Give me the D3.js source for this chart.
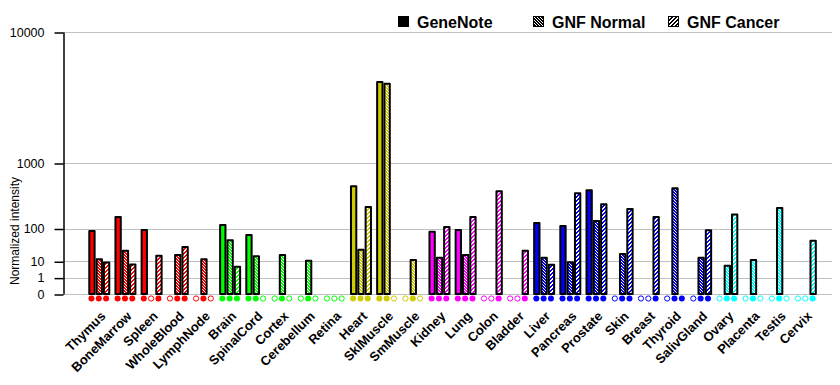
<!DOCTYPE html>
<html>
<head>
<meta charset="utf-8">
<script src="https://cdn.jsdelivr.net/npm/d3@7"></script>
<style>
  body { margin: 0; background: #fff; }
  svg { display: block; font-family: "Liberation Sans", Arial, sans-serif; }
</style>
</head>
<body>
<div id="chart"></div>
<script>
// tissues along the x axis
const tissues = ["Thymus", "BoneMarrow", "Spleen", "WholeBlood", "LymphNode", "Brain", "SpinalCord",
  "Cortex", "Cerebellum", "Retina", "Heart", "SklMuscle", "SmMuscle", "Kidney", "Lung", "Colon",
  "Bladder", "Liver", "Pancreas", "Prostate", "Skin", "Breast", "Thyroid", "SalivGland", "Ovary",
  "Placenta", "Testis", "Cervix"];

// colour of each tissue group
const tissueColors = ["#ff0000", "#ff0000", "#ff0000", "#ff0000", "#ff0000",
  "#00ff00", "#00ff00", "#00ff00", "#00ff00", "#00ff00",
  "#cccc00", "#cccc00", "#cccc00",
  "#ff00ff", "#ff00ff", "#ff00ff", "#ff00ff",
  "#0000ff", "#0000ff", "#0000ff", "#0000ff", "#0000ff", "#0000ff", "#0000ff",
  "#00ffff", "#00ffff", "#00ffff", "#00ffff"];

// normalized intensities
const geneNote  = [88, 171, 93, 0, 0, 119, 71, 0, 0, 0, 522, 4950, 0, 84, 93, 0, 0, 131, 113, 462, 0, 0, 0, 0, 0, 0, 0, 0];
const gnfNormal = [12.3, 25, 0, 18, 12.3, 52, 16, 18, 10.4, 0, 27, 4820, 11.2, 14, 18, 0, 0, 14, 9.1, 143, 19.6, 0, 491, 13.9, 6.1, 11.2, 246, 0];
const gnfCancer = [8.8, 7.1, 16.6, 33, 0, 5.4, 0, 0, 0, 0, 256, 0, 0, 108, 171, 447, 25, 6.8, 419, 286, 237, 171, 0, 91, 191, 0, 0, 50];

// filled (1) / open (0) markers under each bar
const markGeneNote  = [1, 1, 1, 0, 0, 1, 1, 0, 0, 0, 1, 1, 0, 1, 1, 0, 0, 1, 1, 1, 0, 0, 0, 0, 0, 0, 0, 0];
const markGnfNormal = [1, 1, 0, 1, 1, 1, 1, 1, 1, 0, 1, 1, 1, 1, 1, 0, 0, 1, 1, 1, 1, 0, 1, 1, 1, 1, 1, 0];
const markGnfCancer = [1, 1, 1, 1, 0, 1, 0, 0, 0, 0, 1, 0, 0, 1, 1, 1, 1, 1, 1, 1, 1, 1, 1, 1, 1, 0, 0, 1];

const yTicks = [0, 1, 10, 100, 1000, 10000];
const seriesNames = ["GeneNote", "GNF Normal", "GNF Cancer"];

const width = 840, height = 385;
const axisX = 63, gridRight = 832;
const baseY = 294, topY = 32;

const svg = d3.select("#chart").append("svg")
    .attr("width", width)
    .attr("height", height);

const defs = svg.append("defs");

// pixel patterns: "\" fine hatch for GNF Normal, "/" stripes for GNF Cancer
function addPattern(id, color, kind) {
  const n = kind === "normal" ? 3 : 4;
  const p = defs.append("pattern")
      .attr("id", id)
      .attr("patternUnits", "userSpaceOnUse")
      .attr("width", n)
      .attr("height", n);
  const cells = d3.cross(d3.range(n), d3.range(n));
  p.selectAll("rect")
    .data(cells)
    .join("rect")
      .attr("x", d => d[0])
      .attr("y", d => d[1])
      .attr("width", 1)
      .attr("height", 1)
      .attr("shape-rendering", "crispEdges")
      .attr("fill", ([x, y]) => {
        if (kind === "normal") return ((x - y + 3) % 3 === 0) ? "#fff" : color;
        return ((x + y) % 4 < 2) ? color : "#fff";
      });
}

const uniqueColors = Array.from(new Set(tissueColors.concat(["#000000"])));
uniqueColors.forEach(c => {
  addPattern("n" + c.slice(1), c, "normal");
  addPattern("c" + c.slice(1), c, "cancer");
});

const fillFor = (series, color) =>
  series === 0 ? color : `url(#${series === 1 ? "n" : "c"}${color.slice(1)})`;

// scales
const y = d3.scalePow().exponent(Math.log10(2)).domain([0, 10000]).range([baseY, topY]);

const x = d3.scaleBand()
    .domain(tissues)
    .range([84.1, 821])
    .paddingInner(0.16)
    .paddingOuter(0.16);

const xs = d3.scaleBand().domain([0, 1, 2]).range([0, x.bandwidth()]);

// grid lines
svg.append("g")
  .selectAll("line")
  .data(yTicks)
  .join("line")
    .attr("x1", axisX)
    .attr("x2", gridRight)
    .attr("y1", d => Math.round(y(d)) + 0.5)
    .attr("y2", d => Math.round(y(d)) + 0.5)
    .attr("stroke", "#c0c0c0")
    .attr("stroke-width", 1);

// y axis
const yAxis = svg.append("g")
    .attr("transform", `translate(${axisX + 0.5},0)`)
    .call(d3.axisLeft(y).tickValues(yTicks).tickSize(9).tickSizeOuter(0).tickFormat(d3.format("d")).tickPadding(10));
yAxis.select(".domain").attr("stroke", "#000").attr("stroke-width", 1.5);
yAxis.selectAll(".tick line").attr("stroke", "#000").attr("stroke-width", 1.5)
  .attr("transform", "translate(0,0.5)");
yAxis.selectAll(".tick text")
    .attr("fill", "#000")
    .style("font-size", "12.5px")
    .style("font-family", "'Liberation Sans', Arial, sans-serif");

svg.append("text")
    .attr("transform", `translate(18.5,${(170 + 292) / 2}) rotate(-90)`)
    .attr("text-anchor", "middle")
    .style("font-size", "12px")
    .text("Normalized intensity");

// bars
const values = [geneNote, gnfNormal, gnfCancer];
const marks = [markGeneNote, markGnfNormal, markGnfCancer];
const barData = tissues.flatMap((t, i) => [0, 1, 2].map(s => ({
  tissue: t, series: s, value: values[s][i], mark: marks[s][i], color: tissueColors[i]
})));

svg.append("g")
  .selectAll("rect")
  .data(barData)
  .join("rect")
    .attr("x", d => x(d.tissue) + xs(d.series) + 1)
    .attr("y", d => y(d.value))
    .attr("width", xs.bandwidth() - 2)
    .attr("height", d => baseY - y(d.value))
    .attr("fill", d => fillFor(d.series, d.color))
    .attr("stroke", "#000")
    .attr("stroke-width", 2)
    .attr("stroke-linejoin", "round");

// markers under the bars
svg.append("g")
  .selectAll("circle")
  .data(barData)
  .join("circle")
    .attr("cx", d => x(d.tissue) + xs(d.series) + xs.bandwidth() / 2 - 0.5)
    .attr("cy", 298.5)
    .attr("r", d => d.mark ? 3 : 2.6)
    .attr("fill", d => d.mark ? d.color : "#fff")
    .attr("stroke", d => d.color)
    .attr("stroke-width", d => d.mark ? 0 : 1);

// x labels
svg.append("g")
  .selectAll("text")
  .data(tissues)
  .join("text")
    .attr("transform", d => `translate(${x(d) + x.bandwidth() / 2 + 7},${317}) rotate(-45)`)
    .attr("text-anchor", "end")
    .style("font-size", "13px")
    .style("font-weight", "bold")
    .text(d => d);

// legend
const legendX = [398, 533, 668];
const legend = svg.append("g")
  .selectAll("g")
  .data(seriesNames)
  .join("g")
    .attr("transform", (d, i) => `translate(${legendX[i]},16)`);

legend.append("rect")
    .attr("x", 0.5)
    .attr("y", 0.5)
    .attr("width", 10)
    .attr("height", 10)
    .attr("fill", (d, i) => fillFor(i, "#000000"))
    .attr("stroke", "#000")
    .attr("stroke-width", 1);

legend.append("text")
    .attr("x", 19)
    .attr("y", 11.5)
    .style("font-size", "16px")
    .style("font-weight", "bold")
    .text(d => d);
</script>
</body>
</html>
